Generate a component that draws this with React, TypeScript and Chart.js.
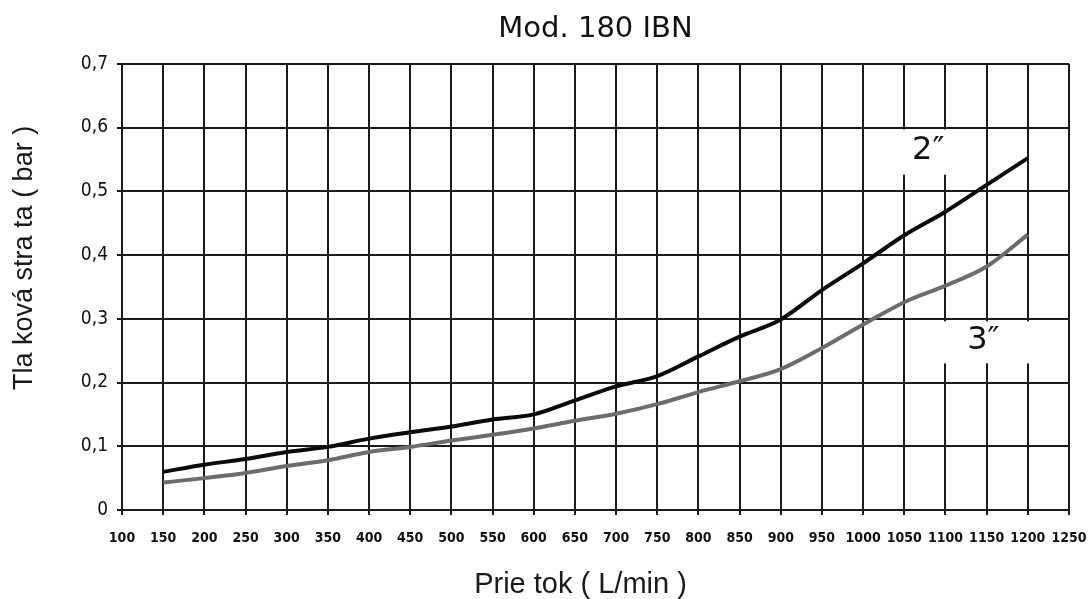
import React, { useEffect, useRef } from 'react';
import { Chart, registerables } from 'chart.js';

Chart.register(...registerables);

// ---- data ----
const flowRates = [150, 200, 250, 300, 350, 400, 450, 500, 550, 600, 650, 700, 750, 800, 850, 900, 950, 1000, 1050, 1100, 1150, 1200];
const loss2in = [0.06, 0.071, 0.08, 0.091, 0.099, 0.112, 0.122, 0.131, 0.142, 0.15, 0.172, 0.194, 0.21, 0.241, 0.272, 0.299, 0.345, 0.387, 0.431, 0.468, 0.51, 0.552];
const loss3in = [0.043, 0.05, 0.058, 0.069, 0.078, 0.091, 0.099, 0.109, 0.118, 0.128, 0.14, 0.151, 0.166, 0.185, 0.202, 0.221, 0.254, 0.291, 0.326, 0.352, 0.382, 0.432];
const seriesNames = ['2″', '3″'];
const xTickValues = [100, 150, 200, 250, 300, 350, 400, 450, 500, 550, 600, 650, 700, 750, 800, 850, 900, 950, 1000, 1050, 1100, 1150, 1200, 1250];
const yTickValues = [0, 0.1, 0.2, 0.3, 0.4, 0.5, 0.6, 0.7];
const yTickLabels = ['0', '0,1', '0,2', '0,3', '0,4', '0,5', '0,6', '0,7'];
const chartTitle = 'Mod. 180 IBN';
const xTitle = 'Prie tok ( L/min )';
const yTitle = 'Tla ková stra ta ( bar )';

const GRID = '#1b1b1b';

export default function App() {
  const ref = useRef<HTMLCanvasElement>(null);

  useEffect(() => {
    document.body.style.margin = '0';
    const canvas = ref.current;
    if (!canvas) return;

    // in-plot series labels (anchor in data units), with white box behind
    const seriesLabelLayout = [
      { x: 1079, y: 0.563, box: [1040, 1115, 0.597, 0.526] },
      { x: 1146, y: 0.265, box: [1085, 1215, 0.296, 0.23] },
    ];

    const labelsPlugin = {
      id: 'seriesLabels',
      beforeDatasetsDraw(chart: any) {
        const { ctx, scales } = chart;
        const xs = scales.x;
        const ys = scales.y;
        ctx.save();
        seriesLabelLayout.forEach((l, i) => {
          const x0 = xs.getPixelForValue(l.box[0]);
          const x1 = xs.getPixelForValue(l.box[1]);
          const y0 = ys.getPixelForValue(l.box[2]);
          const y1 = ys.getPixelForValue(l.box[3]);
          ctx.fillStyle = '#ffffff';
          ctx.fillRect(x0, y0, x1 - x0, y1 - y0);
          ctx.fillStyle = '#111';
          ctx.font = '32px "DejaVu Sans"';
          ctx.textAlign = 'center';
          ctx.textBaseline = 'middle';
          ctx.fillText(seriesNames[i], xs.getPixelForValue(l.x), ys.getPixelForValue(l.y));
        });
        ctx.restore();
      },
      afterDraw(chart: any) {
        const { ctx, chartArea } = chart;
        ctx.save();
        ctx.fillStyle = '#1a1a1a';
        ctx.textAlign = 'center';
        ctx.textBaseline = 'middle';
        ctx.font = '29px "Liberation Sans"';
        ctx.fillText(xTitle, (chartArea.left + chartArea.right) / 2 - 15, chartArea.bottom + 75);
        ctx.translate(25, (chartArea.top + chartArea.bottom) / 2 - 29);
        ctx.rotate(-Math.PI / 2);
        ctx.font = '27px "Liberation Sans"';
        ctx.fillText(yTitle, 0, 0);
        ctx.restore();
      },
    };

    const chart = new Chart(canvas, {
      type: 'line',
      data: {
        datasets: [
          {
            label: seriesNames[0],
            data: flowRates.map((f, i) => ({ x: f, y: loss2in[i] })),
            borderColor: '#0a0a0a',
            borderWidth: 4,
            pointRadius: 0,
            cubicInterpolationMode: 'monotone',
            fill: false,
          },
          {
            label: seriesNames[1],
            data: flowRates.map((f, i) => ({ x: f, y: loss3in[i] })),
            borderColor: '#6c6c6c',
            borderWidth: 4,
            pointRadius: 0,
            cubicInterpolationMode: 'monotone',
            fill: false,
          },
        ],
      },
      options: {
        animation: false,
        responsive: false,
        devicePixelRatio: 1,
        layout: { padding: { left: 0, right: 21, top: 0, bottom: 0 } },
        plugins: {
          legend: { display: false },
          tooltip: { enabled: false },
          title: {
            display: true,
            text: chartTitle,
            fullSize: false,
            color: '#111',
            font: { family: '"DejaVu Sans"', size: 29, weight: 'normal' },
            padding: { top: 12, bottom: 17 },
          },
        },
        scales: {
          x: {
            type: 'linear',
            min: 100,
            max: 1250,
            afterBuildTicks: (s: any) => {
              s.ticks = xTickValues.map((v) => ({ value: v }));
            },
            afterFit: (s: any) => {
              s.height = 89;
              s.paddingLeft = 0;
              s.paddingRight = 0;
            },
            ticks: {
              autoSkip: false,
              maxRotation: 0,
              padding: 15,
              color: '#111',
              font: { family: '"DejaVu Sans Condensed"', size: 14, weight: 'bold' },
              callback: (v: any) => String(v),
            },
            grid: { color: GRID, lineWidth: 2, tickLength: 5, drawTicks: true },
            border: { display: true, color: GRID, width: 2 },
          },
          y: {
            type: 'linear',
            min: 0,
            max: 0.7,
            afterBuildTicks: (s: any) => {
              s.ticks = yTickValues.map((v) => ({ value: v }));
            },
            afterFit: (s: any) => {
              s.width = 122;
            },
            ticks: {
              padding: 9,
              color: '#111',
              font: { family: '"DejaVu Sans Condensed"', size: 19 },
              callback: (v: any) => {
                const idx = yTickValues.findIndex((t) => Math.abs(t - v) < 1e-6);
                return idx >= 0 ? yTickLabels[idx] : '';
              },
            },
            grid: { color: GRID, lineWidth: 2, tickLength: 5, drawTicks: true },
            border: { display: true, color: GRID, width: 2 },
          },
        },
      },
      plugins: [labelsPlugin],
    } as any);

    return () => chart.destroy();
  }, []);

  return (
    <div style={{ position: 'fixed', left: 0, top: 0, width: 1090, height: 599, background: '#fff' }}>
      <canvas ref={ref} width={1090} height={599} style={{ display: 'block', width: 1090, height: 599 }} />
    </div>
  );
}
